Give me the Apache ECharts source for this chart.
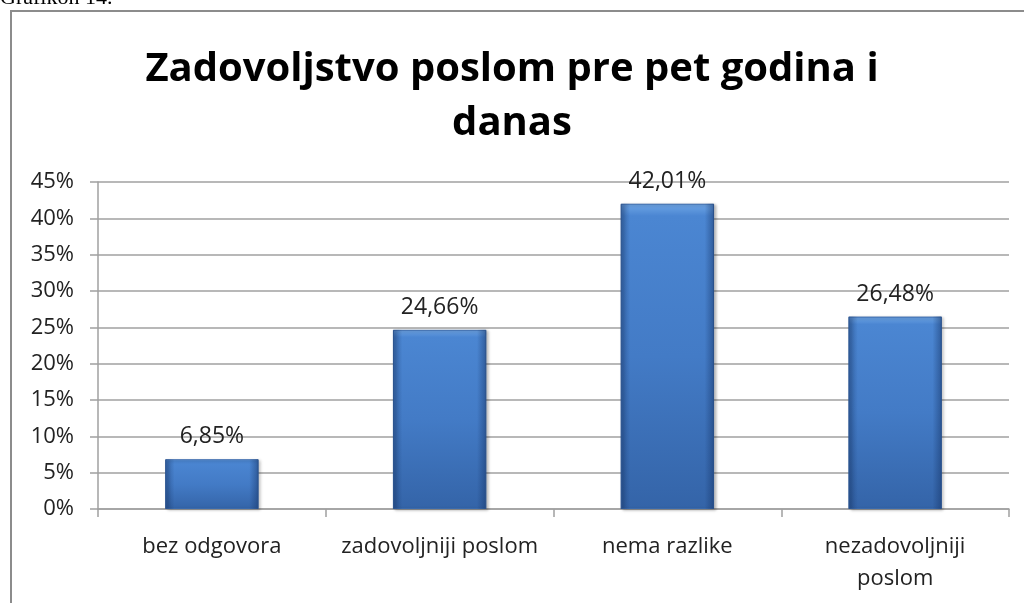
<!DOCTYPE html>
<html>
<head>
<meta charset="utf-8">
<script src="https://cdn.jsdelivr.net/npm/echarts@6/dist/echarts.min.js"></script>
<style>
html, body { margin: 0; padding: 0; background: #fff; }
#chart { width: 1024px; height: 603px; }
</style>
</head>
<body>
<div id="chart"></div>
<script>
var categories = ['bez odgovora', 'zadovoljniji poslom', 'nema razlike', 'nezadovoljniji\nposlom'];
var values = [6.85, 24.66, 42.01, 26.48];
var titleText = 'Zadovoljstvo poslom pre pet godina i\ndanas';

var chart = echarts.init(document.getElementById('chart'));

// vertical body gradient: light bevel on top, darker toward the base
var barBody = new echarts.graphic.LinearGradient(0, 0, 0, 1, [
	{ offset: 0, color: '#6fa6e6' },
	{ offset: 0.04, color: '#4b86d2' },
	{ offset: 0.5, color: '#437bc6' },
	{ offset: 1, color: '#3464a8' }
]);
// overlay to darken the side edges
var barEdges = new echarts.graphic.LinearGradient(0, 0, 1, 0, [
	{ offset: 0, color: 'rgba(20,50,100,0.45)' },
	{ offset: 0.1, color: 'rgba(20,50,100,0)' },
	{ offset: 0.9, color: 'rgba(20,50,100,0)' },
	{ offset: 1, color: 'rgba(20,50,100,0.5)' }
]);

var labelFont = 'Open Sans';

var option = {
	animation: false,
	title: {
		text: titleText,
		left: 'center',
		top: 38,
		textStyle: {
			fontFamily: labelFont,
			fontWeight: 'bold',
			fontSize: 40,
			lineHeight: 54,
			color: '#000'
		}
	},
	grid: {
		left: 98,
		right: 15,
		top: 182,
		bottom: 94,
		containLabel: false
	},
	xAxis: {
		type: 'category',
		data: categories,
		axisLine: { lineStyle: { color: '#a0a0a0', width: 1.5 } },
		axisTick: { show: true, length: 8, lineStyle: { color: '#a0a0a0', width: 1.5 } },
		axisLabel: {
			interval: 0,
			hideOverlap: false,
			color: '#222',
			fontFamily: labelFont,
			fontSize: 22,
			lineHeight: 32,
			margin: 22
		}
	},
	yAxis: {
		type: 'value',
		min: 0,
		max: 45,
		interval: 5,
		axisLine: { show: true, lineStyle: { color: '#a0a0a0', width: 1.5 } },
		axisTick: { show: true, length: 8, lineStyle: { color: '#a0a0a0', width: 1.5 } },
		splitLine: { lineStyle: { color: '#a0a0a0', width: 1.5 } },
		axisLabel: {
			color: '#222',
			fontFamily: labelFont,
			fontSize: 22,
			margin: 24,
			formatter: '{value}%'
		}
	},
	series: [
		{
			type: 'bar',
			data: values,
			barWidth: '41%',
			itemStyle: {
				color: barBody,
				borderColor: '#3a6aac',
				borderWidth: 1,
				shadowColor: 'rgba(0,0,0,0.25)',
				shadowBlur: 3,
				shadowOffsetX: 2,
				shadowOffsetY: 1
			},
			label: {
				show: true,
				position: 'top',
				distance: 11,
				color: '#222',
				fontFamily: labelFont,
				fontSize: 23,
				formatter: function (p) {
					return p.value.toFixed(2).replace('.', ',') + '%';
				}
			}
		},
		{
			type: 'bar',
			data: values,
			barWidth: '41%',
			barGap: '-100%',
			silent: true,
			itemStyle: { color: barEdges }
		}
	],
	graphic: [
		{
			type: 'text',
			left: 0,
			top: -13,
			style: { text: 'Grafikon 14.', font: '22px "Liberation Serif"', fill: '#000' }
		},
		{
			type: 'polyline',
			shape: { points: [[11, 603], [11, 11], [1030, 11]] },
			style: { stroke: '#8c8c8c', lineWidth: 2, fill: null }
		}
	]
};

chart.setOption(option);
</script>
</body>
</html>
